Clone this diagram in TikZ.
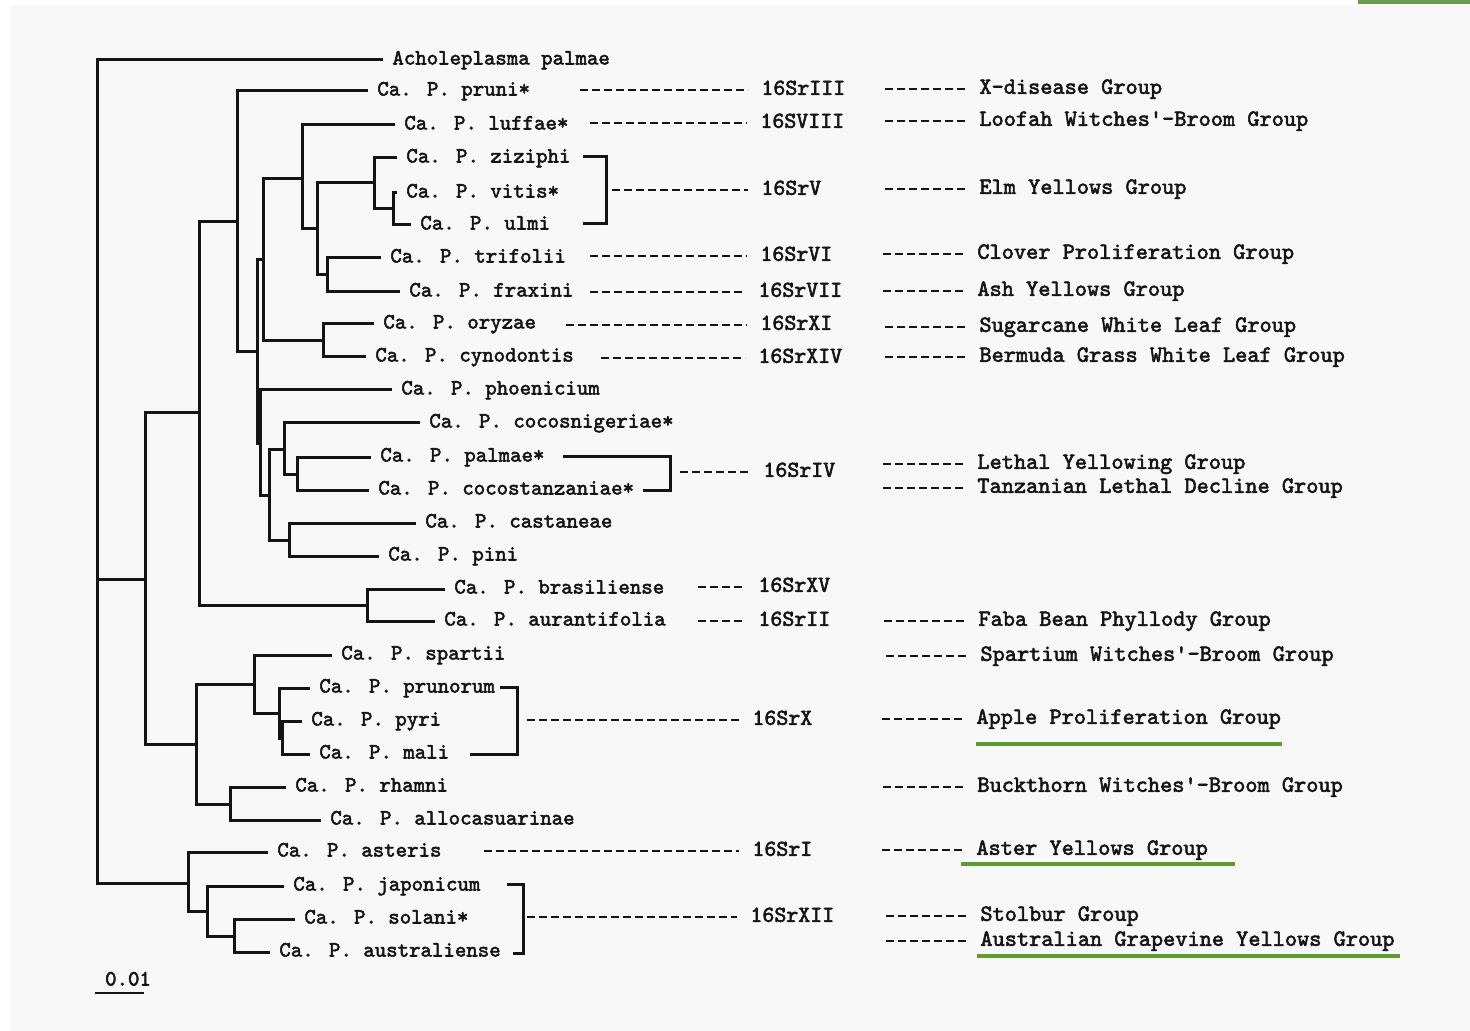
\documentclass[tikz,border=0pt]{standalone}
\usepackage{fontspec}
\newfontfamily\tw{lmmono10-regular}[Extension=.otf, FakeBold=2.4]
\definecolor{hl}{RGB}{90,160,42}
\definecolor{topbar}{RGB}{106,154,74}
\definecolor{pagebg}{RGB}{248,248,248}
\definecolor{ink}{RGB}{20,20,20}
\tikzset{
  br/.style={line width=1.5pt, draw=ink, line join=miter},
  dsh/.style={line width=1.3pt, draw=ink, dash pattern=on 4.2pt off 1.8pt},
  leaf/.style={anchor=west, inner xsep=4.5pt, inner ysep=0pt, text=ink,
    font=\tw\fontsize{10.9}{12}\selectfont, text height=6.5pt, text depth=2pt},
  srlab/.style={anchor=west, inner xsep=6.5pt, inner ysep=0pt, text=ink,
    font=\tw\fontsize{11.4}{13}\selectfont, text height=6.8pt, text depth=2pt},
  grp/.style={anchor=west, inner xsep=6.5pt, inner ysep=0pt, text=ink,
    font=\tw\fontsize{11.6}{13}\selectfont, text height=6.8pt, text depth=2pt},
  uline/.style={line width=2pt, draw=hl}
}
\newcommand\tbr[3]{\draw[br] (#2) -- (#2 -| #1) -- (#3 -| #1) -- (#3);}
\begin{document}
\begin{tikzpicture}[x=0.5pt,y=-0.5pt]
\useasboundingbox (0,0) rectangle (1470,1031);
\fill[white] (0,0) rectangle (1470,1031);
\fill[pagebg] (10,5) rectangle (1470,1031);
\fill[topbar] (1358,0) rectangle (1470,4);

% ---------- leaves ----------
\node[leaf] (acho) at (383,60) {Acholeplasma palmae};
\node[leaf] (pruni) at (368,91) {Ca. P. pruni*};
\node[leaf] (luffae) at (395,125) {Ca. P. luffae*};
\node[leaf] (ziziphi) at (397,158) {Ca. P. ziziphi};
\node[leaf] (vitis) at (397,193) {Ca. P. vitis*};
\node[leaf] (ulmi) at (411,225) {Ca. P. ulmi};
\node[leaf] (trifolii) at (381,258) {Ca. P. trifolii};
\node[leaf] (fraxini) at (400,292) {Ca. P. fraxini};
\node[leaf] (oryzae) at (374,324) {Ca. P. oryzae};
\node[leaf] (cynodontis) at (366,357) {Ca. P. cynodontis};
\node[leaf] (phoenicium) at (392,390) {Ca. P. phoenicium};
\node[leaf] (cocosnig) at (420,423) {Ca. P. cocosnigeriae*};
\node[leaf] (palmae) at (371,457) {Ca. P. palmae*};
\node[leaf] (cocostan) at (369,490) {Ca. P. cocostanzaniae*};
\node[leaf] (castaneae) at (416,523) {Ca. P. castaneae};
\node[leaf] (pini) at (379,556) {Ca. P. pini};
\node[leaf] (brasil) at (445,589) {Ca. P. brasiliense};
\node[leaf] (auranti) at (435,621) {Ca. P. aurantifolia};
\node[leaf] (spartii) at (332,655) {Ca. P. spartii};
\node[leaf] (prunorum) at (310,688) {Ca. P. prunorum};
\node[leaf] (pyri) at (302,721) {Ca. P. pyri};
\node[leaf] (mali) at (310,754) {Ca. P. mali};
\node[leaf] (rhamni) at (286,787) {Ca. P. rhamni};
\node[leaf] (allocas) at (321,820) {Ca. P. allocasuarinae};
\node[leaf] (asteris) at (268,852) {Ca. P. asteris};
\node[leaf] (japonicum) at (284,886) {Ca. P. japonicum};
\node[leaf] (solani) at (295,919) {Ca. P. solani*};
\node[leaf] (austral) at (270,952) {Ca. P. australiense};

% ---------- internal nodes ----------
\coordinate (R0) at (97,470);
\coordinate (A) at (145,579);
\coordinate (B) at (199,413);
\coordinate (C) at (196,744);
\coordinate (D) at (237,222);
\coordinate (E) at (367,605);
\coordinate (L) at (257,352);
\coordinate (N) at (263,260);
\coordinate (M) at (260,443);
\coordinate (G) at (302,179);
\coordinate (K) at (323,341);
\coordinate (S) at (317,229);
\coordinate (H) at (374,183);
\coordinate (I) at (327,275);
\coordinate (J) at (393,209);
\coordinate (O) at (269,495);
\coordinate (P) at (284,449);
\coordinate (R) at (297,474);
\coordinate (Q) at (289,540);
\coordinate (T) at (254,684);
\coordinate (U) at (279,713);
\coordinate (V) at (282,738);
\coordinate (W) at (230,804);
\coordinate (AY) at (188,883);
\coordinate (X) at (207,911);
\coordinate (Y) at (234,936);

% ---------- branches ----------
\tbr{R0}{acho.west}{AY}
\draw[br] (R0 |- A) -- (A);
\tbr{A}{B}{C}
\tbr{B}{D}{E}
\tbr{D}{pruni.west}{L}
\tbr{L}{N}{M}
\tbr{N}{G}{K}
\tbr{G}{luffae.west}{S}
\tbr{S}{H}{I}
\tbr{H}{ziziphi.west}{J}
\tbr{J}{vitis.west}{ulmi.west}
\tbr{I}{trifolii.west}{fraxini.west}
\tbr{K}{oryzae.west}{cynodontis.west}
\tbr{M}{phoenicium.west}{O}
\tbr{O}{P}{Q}
\tbr{P}{cocosnig.west}{R}
\tbr{R}{palmae.west}{cocostan.west}
\tbr{Q}{castaneae.west}{pini.west}
\tbr{E}{brasil.west}{auranti.west}
\tbr{C}{T}{W}
\tbr{T}{spartii.west}{U}
\tbr{U}{prunorum.west}{V}
\tbr{V}{pyri.west}{mali.west}
\tbr{W}{rhamni.west}{allocas.west}
\tbr{AY}{asteris.west}{X}
\tbr{X}{japonicum.west}{Y}
\tbr{Y}{solani.west}{austral.west}

% ---------- 16Sr labels ----------
\node[srlab] (s3) at (748,90) {16SrIII};
\node[srlab] (s8) at (747,123) {16SVIII};
\node[srlab] (s5) at (748,190) {16SrV};
\node[srlab] (s6) at (747,256) {16SrVI};
\node[srlab] (s7) at (745,292) {16SrVII};
\node[srlab] (s11) at (747,325) {16SrXI};
\node[srlab] (s14) at (745,358) {16SrXIV};
\node[srlab] (s4) at (750,472) {16SrIV};
\node[srlab] (s15) at (745,587) {16SrXV};
\node[srlab] (s2) at (745,621) {16SrII};
\node[srlab] (s10) at (739,720) {16SrX};
\node[srlab] (s1) at (739,851) {16SrI};
\node[srlab] (s12) at (737,917) {16SrXII};

% brackets
\coordinate (bz1) at (583,157); \coordinate (bz2) at (583,224); \coordinate (bzx) at (606,190);
\coordinate (bp1) at (563,456); \coordinate (bp2) at (643,490); \coordinate (bpx) at (670,472);
\coordinate (bq1) at (500,687); \coordinate (bq2) at (470,754); \coordinate (bqx) at (517,720);
\coordinate (bj1) at (507,884); \coordinate (bj2) at (513,953); \coordinate (bjx) at (523,917);
\tbr{bzx}{bz1}{bz2}
\tbr{bpx}{bp1}{bp2}
\tbr{bqx}{bq1}{bq2}
\tbr{bjx}{bj1}{bj2}

% dashes to 16Sr labels
\coordinate (d3) at (580,90);   \draw[dsh] (d3) -- (s3.west);
\coordinate (d8) at (590,123);  \draw[dsh] (d8) -- (s8.west);
\coordinate (d5) at (612,190);  \draw[dsh] (d5) -- (s5.west);
\coordinate (d6) at (590,256);  \draw[dsh] (d6) -- (s6.west);
\coordinate (d7) at (590,292);  \draw[dsh] (d7) -- (s7.west);
\coordinate (d11) at (566,325); \draw[dsh] (d11) -- (s11.west);
\coordinate (d14) at (601,358); \draw[dsh] (d14) -- (s14.west);
\coordinate (d4) at (680,472);  \draw[dsh] (d4) -- (s4.west);
\coordinate (d15) at (698,587); \draw[dsh] (d15) -- (s15.west);
\coordinate (d2) at (698,621);  \draw[dsh] (d2) -- (s2.west);
\coordinate (d10) at (527,720); \draw[dsh] (d10) -- (s10.west);
\coordinate (d1) at (484,851);  \draw[dsh] (d1) -- (s1.west);
\coordinate (d12) at (527,917); \draw[dsh] (d12) -- (s12.west);

% ---------- group labels ----------
\node[grp] (gx) at (966,89) {X-disease Group};
\node[grp] (glo) at (966,121) {Loofah Witches\textquotesingle-Broom Group};
\node[grp] (gel) at (966,189) {Elm Yellows Group};
\node[grp] (gcl) at (964,254) {Clover Proliferation Group};
\node[grp] (gas) at (964,291) {Ash Yellows Group};
\node[grp] (gsu) at (966,327) {Sugarcane White Leaf Group};
\node[grp] (gbe) at (966,357) {Bermuda Grass White Leaf Group};
\node[grp] (gle) at (964,464) {Lethal Yellowing Group};
\node[grp] (gta) at (964,488) {Tanzanian Lethal Decline Group};
\node[grp] (gfa) at (965,621) {Faba Bean Phyllody Group};
\node[grp] (gsp) at (967,656) {Spartium Witches\textquotesingle-Broom Group};
\node[grp] (gap) at (963,719) {Apple Proliferation Group};
\node[grp] (gbu) at (964,787) {Buckthorn Witches\textquotesingle-Broom Group};
\node[grp] (gay) at (963,850) {Aster Yellows Group};
\node[grp] (gst) at (967,916) {Stolbur Group};
\node[grp] (gau) at (967,941) {Australian Grapevine Yellows Group};

\foreach \g in {gx,glo,gel,gcl,gas,gsu,gbe,gle,gta,gfa,gsp,gap,gbu,gay,gst,gau}{
  \draw[dsh] ([xshift=-40.5pt]\g.west) coordinate (\g-d) -- (\g.west);
}

% green underlines
\draw[uline] (976,744) -- (1282,744);
\draw[uline] (961,864) -- (1235,864);
\draw[uline] (977,956) -- (1400,956);

% scale bar
\node[leaf, inner xsep=0pt, anchor=center] (scale) at (128,981) {0.01};
\draw[line width=1.2pt, draw=ink] (95,993) -- (144,993);
\end{tikzpicture}
\end{document}
